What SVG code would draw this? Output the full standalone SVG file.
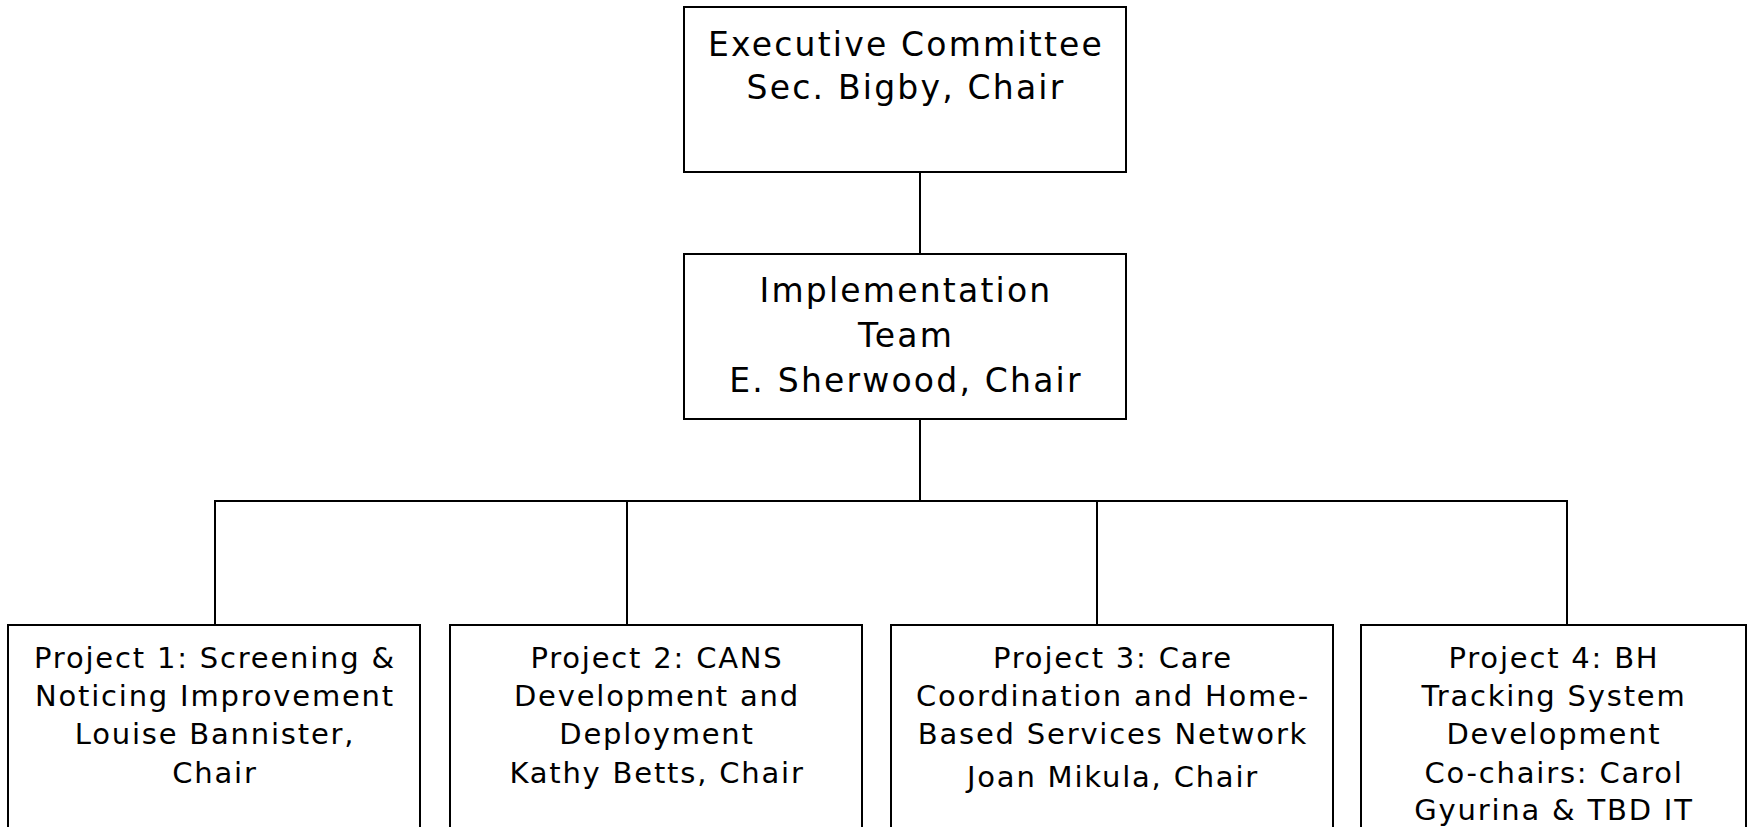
<svg xmlns="http://www.w3.org/2000/svg" width="1748" height="827" viewBox="0 0 1748 827">
<style>
.box{fill:#fff;stroke:#000;stroke-width:2}
.c{fill:none;stroke:#000;stroke-width:2}
.t{font-family:"DejaVu Sans",Verdana,sans-serif;fill:#000;text-anchor:middle}
.big{font-size:33px;letter-spacing:2.2px}
.sm{font-size:29px;letter-spacing:1.8px}
</style>
<rect width="1748" height="827" fill="#fff"/>
<g id="connectors">
<line class="c" x1="920" y1="172" x2="920" y2="254"/>
<line class="c" x1="920" y1="419" x2="920" y2="501"/>
<polyline class="c" points="215,625 215,501 1567,501 1567,625"/>
<line class="c" x1="627" y1="501" x2="627" y2="625"/>
<line class="c" x1="1097" y1="501" x2="1097" y2="625"/>
</g>
<g id="exec">
<rect class="box" x="684" y="7" width="442" height="165"/>
<text class="t big" x="906" y="56">Executive Committee</text>
<text class="t big" x="906" y="99">Sec. Bigby, Chair</text>
</g>
<g id="impl">
<rect class="box" x="684" y="254" width="442" height="165"/>
<text class="t big" x="906" y="302">Implementation</text>
<text class="t big" x="906" y="347">Team</text>
<text class="t big" x="906" y="392">E. Sherwood, Chair</text>
</g>
<g id="p1">
<rect class="box" x="8" y="625" width="412" height="210"/>
<text class="t sm" x="215" y="668">Project 1: Screening &amp;</text>
<text class="t sm" x="215" y="706">Noticing Improvement</text>
<text class="t sm" x="215" y="744">Louise Bannister,</text>
<text class="t sm" x="215" y="783">Chair</text>
</g>
<g id="p2">
<rect class="box" x="450" y="625" width="412" height="210"/>
<text class="t sm" x="657" y="668">Project 2: CANS</text>
<text class="t sm" x="657" y="706">Development and</text>
<text class="t sm" x="657" y="744">Deployment</text>
<text class="t sm" x="657" y="783">Kathy Betts, Chair</text>
</g>
<g id="p3">
<rect class="box" x="891" y="625" width="442" height="210"/>
<text class="t sm" x="1113" y="668">Project 3: Care</text>
<text class="t sm" x="1113" y="706">Coordination and Home-</text>
<text class="t sm" x="1113" y="744">Based Services Network</text>
<text class="t sm" x="1113" y="787">Joan Mikula, Chair</text>
</g>
<g id="p4">
<rect class="box" x="1361" y="625" width="385" height="210"/>
<text class="t sm" x="1554" y="668">Project 4: BH</text>
<text class="t sm" x="1554" y="706">Tracking System</text>
<text class="t sm" x="1554" y="744">Development</text>
<text class="t sm" x="1554" y="783">Co-chairs: Carol</text>
<text class="t sm" x="1554" y="820">Gyurina &amp; TBD IT</text>
</g>
</svg>
